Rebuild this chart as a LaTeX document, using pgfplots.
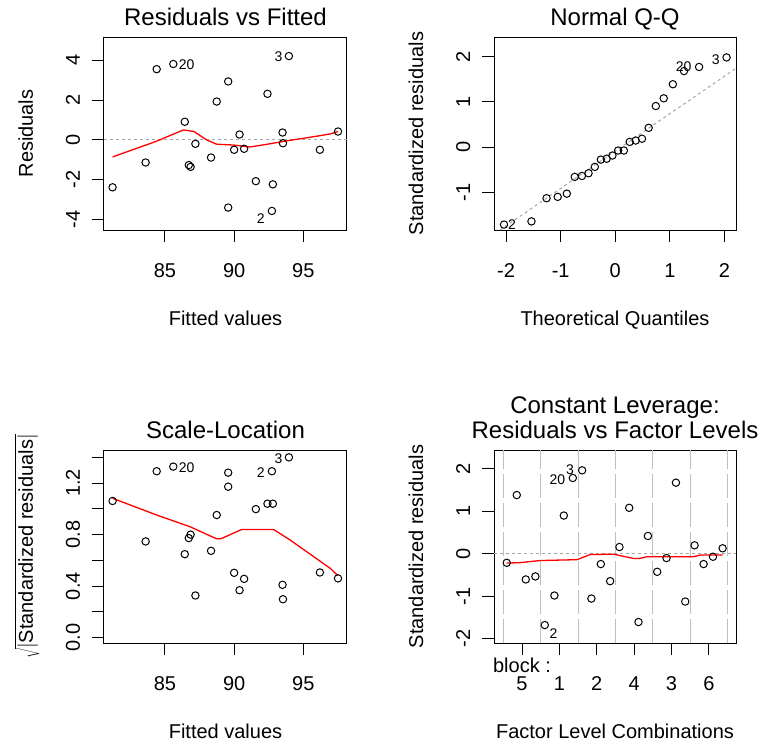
\documentclass[border=0pt]{standalone}
\usepackage{fontspec}
\setmainfont{Liberation Sans}
\usepackage{pgfplots}
\pgfplotsset{compat=1.18}
\newcommand{\fs}[1]{\fontsize{#1}{#1}\selectfont}
\definecolor{rgrid}{gray}{0.75}
\tikzset{idl/.style={font=\fs{14}, inner sep=0pt}}
\pgfplotsset{
  rpanel/.style={
    scale only axis, clip=false,
    axis line style={line width=1pt},
    tick align=outside, xtick pos=left, ytick pos=left,
    major tick length=12pt,
    every tick/.append style={black, line width=1pt},
    tick label style={font=\fs{20}, inner sep=0pt},
    xticklabel style={anchor=base},
    xticklabel shift=35pt,
    yticklabel style={rotate=90, anchor=base},
    yticklabel shift=12pt,
    label style={font=\fs{20}, inner sep=0pt},
    xlabel style={at={(axis description cs:0.5,0)}, anchor=base, yshift=-95pt},
    ylabel style={at={([xshift=-71pt]axis description cs:0,0.5)}, anchor=base},
    title style={at={(axis description cs:0.5,1)}, anchor=base, yshift=6pt, font=\fs{24}, inner sep=0pt},
  },
  pts/.style={only marks, mark=o, mark size=3.7pt, mark options={black, line width=1pt}},
  rline/.style={red, line width=1.3pt, mark=none},
  zline/.style={gray!70, line width=1pt, dash pattern=on 3pt off 3pt, mark=none},
}
\begin{document}
\begin{tikzpicture}
\useasboundingbox (0,0) rectangle (764pt,-742pt);
% ---------------- Panel 1: Residuals vs Fitted
\begin{axis}[rpanel, at={(104pt,-230pt)}, anchor=south west,
  width=243pt, height=193pt,
  xmin=80.59, xmax=98.16, ymin=-4.54, ymax=5.18,
  xtick={85,90,95}, xticklabels={85,90,95},
  ytick={-4,-2,0,2,4}, yticklabels={-4,-2,0,2,4},
  title={Residuals vs Fitted}, xlabel={Fitted values}, ylabel={Residuals}]
\addplot[zline] coordinates {(80.59,0) (98.16,0)};
\addplot[pts] coordinates {
(81.21,-2.39) (83.60,-1.14) (84.40,3.56) (85.60,3.82) (86.43,0.91)
(86.72,-1.27) (86.85,-1.36) (87.20,-0.20) (88.33,-0.89) (88.74,1.93)
(89.57,2.94) (89.57,-3.41) (90.00,-0.50) (90.39,0.27) (90.72,-0.45)
(91.57,-2.08) (92.41,2.32) (92.73,-3.58) (92.80,-2.24) (93.50,0.37)
(93.53,-0.17) (93.96,4.22) (96.20,-0.50) (97.51,0.42)};
\addplot[rline] coordinates {
(81.21,-0.86) (84.35,-0.08) (86.33,0.50) (87.10,0.42) (88.00,0.00)
(88.74,-0.22) (89.95,-0.26) (91.15,-0.36) (92.40,-0.22) (94.06,-0.02)
(95.50,0.13) (96.96,0.30) (97.51,0.42)};
\node[idl] at (axis cs:86.57,3.78) {20};
\node[idl] at (axis cs:93.21,4.17) {3};
\node[idl] at (axis cs:91.93,-3.95) {2};
\end{axis}
% ---------------- Panel 2: Normal Q-Q
\begin{axis}[rpanel, at={(494pt,-230pt)}, anchor=south west,
  width=242pt, height=193pt,
  xmin=-2.22, xmax=2.21, ymin=-1.82, ymax=2.43,
  xtick={-2,-1,0,1,2}, xticklabels={-2,-1,0,1,2},
  ytick={-1,0,1,2}, yticklabels={-1,0,1,2},
  title={Normal Q-Q}, xlabel={Theoretical Quantiles}, ylabel={Standardized residuals}]
\addplot[zline] coordinates {(-2.11,-1.82) (2.21,1.74)};
\addplot[pts] coordinates {
(-2.037,-1.70) (-1.534,-1.63) (-1.258,-1.12) (-1.054,-1.09) (-0.887,-1.02)
(-0.742,-0.65) (-0.611,-0.63) (-0.489,-0.57) (-0.374,-0.43) (-0.264,-0.27)
(-0.157,-0.25) (-0.052,-0.18) (0.052,-0.07) (0.157,-0.07) (0.264,0.12)
(0.374,0.15) (0.489,0.19) (0.611,0.43) (0.742,0.91) (0.887,1.08)
(1.054,1.39) (1.258,1.68) (1.534,1.77) (2.037,1.98)};
\node[idl] at (axis cs:-1.89,-1.70) {2};
\node[idl] at (axis cs:1.25,1.77) {20};
\node[idl] at (axis cs:1.84,1.94) {3};
\end{axis}
% ---------------- Panel 3: Scale-Location
\begin{axis}[rpanel, at={(104pt,-643pt)}, anchor=south west,
  width=243pt, height=193pt,
  xmin=80.59, xmax=98.16, ymin=-0.042, ymax=1.457,
  xtick={85,90,95}, xticklabels={85,90,95},
  ytick={0,0.2,0.4,0.6,0.8,1.0,1.2,1.4}, yticklabels={0.0,,0.4,,0.8,,1.2,},
  title={Scale-Location}, xlabel={Fitted values},
  ylabel={$\sqrt{|\mbox{Standardized residuals}|}$}]
\addplot[pts] coordinates {
(81.21,1.061) (83.60,0.747) (84.40,1.292) (85.60,1.328) (86.43,0.648)
(86.72,0.773) (86.85,0.800) (87.20,0.327) (88.33,0.674) (88.74,0.952)
(89.57,1.172) (89.57,1.281) (90.00,0.503) (90.39,0.368) (90.72,0.456)
(91.57,0.998) (92.41,1.040) (92.73,1.292) (92.80,1.040) (93.50,0.410)
(93.53,0.298) (93.96,1.400) (96.20,0.506) (97.51,0.460)};
\addplot[rline] coordinates {
(81.21,1.082) (84.40,0.952) (86.81,0.861) (88.74,0.767) (89.03,0.767)
(90.55,0.840) (92.85,0.840) (94.06,0.757) (96.96,0.537) (97.51,0.480)};
\node[idl] at (axis cs:86.57,1.323) {20};
\node[idl] at (axis cs:91.93,1.284) {2};
\node[idl] at (axis cs:93.21,1.393) {3};
\end{axis}
% ---------------- Panel 4: Constant Leverage
\begin{axis}[rpanel, at={(494pt,-643pt)}, anchor=south west,
  width=242pt, height=193pt,
  xmin=0.25, xmax=6.725, ymin=-2.10, ymax=2.44,
  xtick={1,2,3,4,5,6}, xticklabels={5,1,2,4,3,6},
  ytick={-2,-1,0,1,2}, yticklabels={-2,-1,0,1,2},
  extra x ticks={0.5,1.5,2.5,3.5,4.5,5.5,6.5}, extra x tick labels={},
  extra x tick style={grid=major, major tick length=0pt,
    major grid style={rgrid, line width=1pt, dash pattern=on 24pt off 5pt}},
  title={Residuals vs Factor Levels}, xlabel={Factor Level Combinations},
  ylabel={Standardized residuals}]
\addplot[zline] coordinates {(0.25,0) (6.725,0)};
\addplot[pts] coordinates {
(0.591,-0.213) (0.859,1.380) (1.100,-0.605) (1.357,-0.534) (1.609,-1.678)
(1.866,-0.983) (2.118,0.898) (2.359,1.782) (2.608,1.962) (2.857,-1.054)
(3.109,-0.243) (3.358,-0.645) (3.607,0.158) (3.867,1.080) (4.116,-1.607)
(4.368,0.418) (4.617,-0.425) (4.866,-0.102) (5.118,1.671) (5.367,-1.125)
(5.617,0.198) (5.858,-0.243) (6.109,-0.071) (6.367,0.128)};
\addplot[rline] coordinates {
(0.59,-0.22) (0.95,-0.21) (1.48,-0.16) (2.47,-0.14) (2.82,-0.02)
(3.45,-0.01) (3.76,-0.07) (3.98,-0.11) (4.16,-0.11) (4.34,-0.07)
(5.59,-0.07) (5.77,-0.03) (6.37,-0.03)};
\node[idl] at (axis cs:1.84,-1.87) {2};
\node[idl] at (axis cs:1.947,1.742) {20};
\node[idl] at (axis cs:2.287,1.97) {3};
\node[anchor=base east, font=\fs{20}, inner sep=0pt] at (rel axis cs:0.236,-0.152) {block :};
\node[anchor=base, font=\fs{24}, inner sep=0pt] at (rel axis cs:0.5,1.187) {Constant Leverage:};
\end{axis}
\end{tikzpicture}
\end{document}
